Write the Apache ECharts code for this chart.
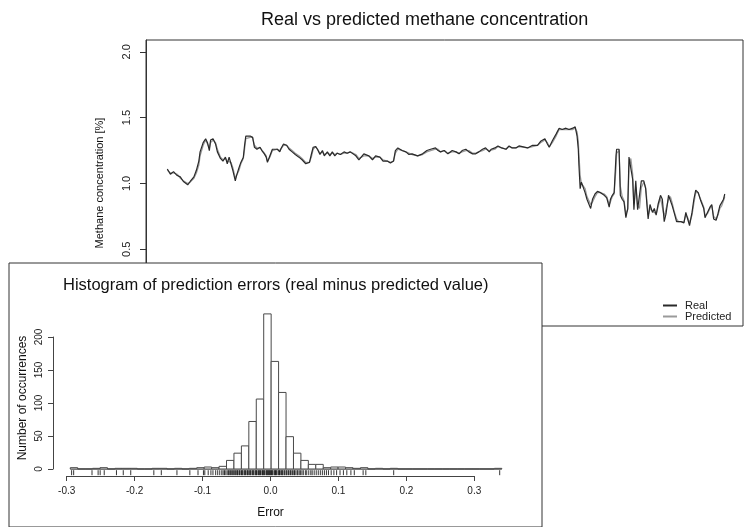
<!DOCTYPE html>
<html><head><meta charset="utf-8">
<script src="https://cdn.jsdelivr.net/npm/echarts@6/dist/echarts.min.js"></script>
<style>html,body{margin:0;padding:0;background:#fff}#c{width:744px;height:527px}</style>
</head><body><div id="c"></div>
<script>
// ---- Main chart: real vs predicted methane concentration ----
const obsIndex = [0,5,10,16,21,26,33,37,43,47, 51,53,58,62,65,68,70,74,78,81, 86,90,94,97,100,103,106,110,112,116,
 119,123,125,127,130,134,138,141,145,150, 153,157,160,162,166,170,173,178,182,184, 188,193,197,202,207,213,218,224,226,230,
 233,236,240,243,247,251,254,259,263,267, 271,275,280,286,291,296,305,310,318,326, 332,337,344,349,356,361,366,369,373,380,
 386,391,396,405,413,420,426,434,438,442, 448,454,461,467,472,477,483,488,494,499, 504,510,515,521,524,530,535,541,548,553,
 558,564,569,572,583,591,599,604,611,615, 618,623,629,634,639,645,650,656,660,663, 665,666,668,670,673,676,679,682,685,688,
 692,696,701,707,711,715,717,720,723,726, 727,731,733,736,739,742,745,747,750,753, 755,758,761,764,767,771,774,776,778,781,
 785,788,791,794,798,801,804,807,811,814, 817,820,824,827,831,836,839,842,845,849, 852,855,859,863,868,870,874,878,881,884,
 888,891,894,897,900,902];
const realValues = [1.11,1.07,1.09,1.06,1.05,1.015,0.99,1.015,1.05,1.10,
 1.17,1.24,1.31,1.34,1.31,1.25,1.33,1.34,1.30,1.24,
 1.19,1.17,1.20,1.15,1.20,1.15,1.10,1.02,1.06,1.12,
 1.16,1.20,1.29,1.36,1.35,1.36,1.35,1.275,1.26,1.275,
 1.25,1.225,1.20,1.16,1.21,1.26,1.25,1.26,1.24,1.265,
 1.30,1.29,1.26,1.24,1.22,1.20,1.18,1.15,1.14,1.16,
 1.22,1.275,1.28,1.26,1.22,1.25,1.21,1.24,1.21,1.24,
 1.21,1.23,1.22,1.24,1.23,1.24,1.21,1.18,1.225,1.21,
 1.18,1.21,1.20,1.17,1.17,1.155,1.17,1.25,1.27,1.25,
 1.24,1.22,1.225,1.21,1.225,1.25,1.26,1.27,1.25,1.24,
 1.25,1.225,1.25,1.24,1.225,1.25,1.26,1.24,1.225,1.225,
 1.24,1.26,1.27,1.24,1.26,1.27,1.285,1.27,1.26,1.285,
 1.27,1.27,1.285,1.275,1.27,1.29,1.29,1.32,1.34,1.30,
 1.275,1.325,1.375,1.42,1.41,1.42,1.41,1.42,1.43,1.36,
 1.26,1.14,0.96,1.01,1.02,0.93,0.88,0.89,0.81,0.88,
 0.92,0.94,0.93,0.91,0.89,0.82,0.88,0.91,0.93,1.21,
 1.26,1.26,0.91,0.88,0.86,0.74,0.81,1.20,1.21,1.03,
 0.80,1.02,0.80,0.81,1.02,1.02,0.96,0.84,0.73,0.84,
 0.78,0.81,0.76,0.84,0.91,0.88,0.71,0.77,0.91,0.91,
 0.83,0.78,0.71,0.70,0.71,0.70,0.78,0.73,0.68,0.78,
 0.88,0.95,0.93,0.87,0.81,0.74,0.78,0.82,0.84,0.73,
 0.72,0.77,0.83,0.84,0.88,0.92];
const predictedValues = [1.10,1.08,1.08,1.07,1.04,1.02,1.00,1.01,1.04,1.08,
 1.14,1.21,1.29,1.33,1.32,1.27,1.31,1.33,1.31,1.26,
 1.20,1.18,1.19,1.17,1.18,1.16,1.12,1.04,1.05,1.10,
 1.15,1.19,1.26,1.34,1.35,1.35,1.35,1.29,1.27,1.27,
 1.26,1.23,1.21,1.17,1.20,1.25,1.25,1.26,1.25,1.26,
 1.29,1.29,1.27,1.25,1.23,1.21,1.19,1.16,1.15,1.16,
 1.20,1.26,1.28,1.27,1.23,1.24,1.22,1.23,1.22,1.23,
 1.22,1.23,1.22,1.23,1.23,1.24,1.22,1.19,1.21,1.21,
 1.19,1.20,1.20,1.18,1.17,1.16,1.17,1.23,1.26,1.25,
 1.24,1.23,1.22,1.21,1.22,1.24,1.25,1.26,1.26,1.24,
 1.25,1.23,1.24,1.24,1.23,1.24,1.25,1.25,1.23,1.23,
 1.24,1.25,1.26,1.25,1.25,1.26,1.28,1.27,1.26,1.28,
 1.27,1.27,1.28,1.28,1.27,1.28,1.29,1.31,1.33,1.31,
 1.28,1.31,1.36,1.41,1.41,1.41,1.41,1.41,1.42,1.39,
 1.32,1.22,1.06,1.00,1.00,0.96,0.90,0.89,0.84,0.86,
 0.90,0.93,0.93,0.92,0.90,0.84,0.86,0.90,0.92,1.12,
 1.23,1.25,0.98,0.90,0.87,0.77,0.80,1.12,1.19,1.07,
 0.84,0.97,0.83,0.81,0.97,1.01,0.97,0.87,0.76,0.81,
 0.79,0.80,0.77,0.82,0.89,0.88,0.75,0.76,0.88,0.90,
 0.85,0.79,0.73,0.71,0.71,0.71,0.76,0.74,0.70,0.76,
 0.85,0.93,0.93,0.88,0.82,0.76,0.77,0.81,0.83,0.75,
 0.73,0.76,0.81,0.83,0.87,0.90];
const mainYTicks = [0, 0.5, 1, 1.5, 2];

// ---- Inset: histogram of prediction errors ----
const errBinStart = -0.294;
const errBinWidth = 0.01095;
const errCounts = [2,0,0,1,2,0,1,1,1,0, 0,1,1,0,1,0,1,2,3,2,
 4,13,24,35,72,106,235,163,116,49, 24,13,7,7,2,3,3,2,1,2,
 0,1,0,1,0,0,0,0,0,0, 0,0,0,0,0,0,0,1];
const rugValues = [-0.292,-0.289,-0.262,-0.253,-0.250,-0.244,-0.226,-0.216,-0.205,-0.171,-0.160,-0.137,-0.118,-0.106,-0.098,-0.096,-0.091,-0.087,-0.084,-0.080,-0.077,-0.074,-0.071,-0.069,-0.067,-0.065,-0.063,-0.061,-0.060,-0.058,-0.057,-0.055,-0.054,-0.052,-0.051,-0.049,-0.048,-0.047,-0.045,-0.044,-0.042,-0.041,-0.040,-0.038,-0.037,-0.036,-0.034,-0.033,-0.032,-0.030,-0.029,-0.028,-0.026,-0.025,-0.024,-0.022,-0.021,-0.020,-0.019,-0.017,-0.016,-0.015,-0.014,-0.012,-0.011,-0.010,-0.009,-0.008,-0.006,-0.005,-0.004,-0.003,-0.002,-0.001,0.000,0.001,0.002,0.003,0.004,0.006,0.007,0.008,0.009,0.010,0.012,0.013,0.014,0.015,0.017,0.018,0.019,0.021,0.022,0.024,0.025,0.027,0.028,0.030,0.031,0.033,0.035,0.036,0.038,0.040,0.041,0.043,0.045,0.047,0.049,0.052,0.054,0.057,0.060,0.062,0.065,0.068,0.071,0.074,0.077,0.080,0.083,0.086,0.090,0.094,0.098,0.103,0.108,0.113,0.119,0.124,0.137,0.141,0.182,0.338];
const errXTicks = [-0.3,-0.2,-0.1,0,0.1,0.2,0.3];
const errYTicks = [0,50,100,150,200];

const FONT = 'Liberation Sans, Arial, Helvetica, sans-serif';
const histYMin = -9.4, histYMax = 244.4;

const binData = errCounts.map((c, i) => [errBinStart + i * errBinWidth, errBinStart + (i + 1) * errBinWidth, c]);
const binEnd = errBinStart + errCounts.length * errBinWidth;

const chart = echarts.init(document.getElementById('c'), null, {renderer: 'canvas'});
const hidden = {show: false};
chart.setOption({
  animation: false,
  backgroundColor: '#fff',
  textStyle: {fontFamily: FONT},
  title: [
    {text: 'Real vs predicted methane concentration', left: 261, top: 11, padding: 0,
     textStyle: {fontSize: 18, fontWeight: 'normal', color: '#111', fontFamily: FONT}},
    {text: 'Histogram of prediction errors (real minus predicted value)', left: 63, top: 277, padding: 0, z: 40,
     textStyle: {fontSize: 16.5, fontWeight: 'normal', color: '#111', fontFamily: FONT}}
  ],
  legend: {
    data: ['Real', 'Predicted'], orient: 'vertical', left: 663, top: 300, padding: 0,
    itemWidth: 14, itemHeight: 2, itemGap: 0, icon: 'rect',
    textStyle: {fontSize: 11, lineHeight: 10, color: '#222', fontFamily: FONT, padding: [0, 0, 0, 3]}
  },
  grid: [
    {left: 146, top: 40, right: 1, bottom: 201, show: true, borderColor: '#333', borderWidth: 1, backgroundColor: 'transparent'},
    {left: 9, top: 263, right: 202, bottom: -10, show: true, borderColor: '#333', borderWidth: 1, backgroundColor: '#fff', z: 20},
    {left: 66.7, right: 744 - 474.3, top: 300, bottom: 51, z: 30},
    {left: 53, width: 100, top: 337, bottom: 58, z: 30},
    {left: 53, right: 225, top: 307.7, bottom: 51.8, z: 30}
  ],
  xAxis: [
    {gridIndex: 0, type: 'value', min: -34.5, max: 931.5, show: false},
    {gridIndex: 1, type: 'value', min: 0, max: 1, show: false},
    {gridIndex: 2, type: 'value', min: -0.3, max: 0.3, position: 'bottom', z: 30,
     name: 'Error', nameLocation: 'middle', nameGap: 31,
     nameTextStyle: {fontSize: 12, color: '#111', fontFamily: FONT},
     axisLine: {show: true, onZero: false, lineStyle: {color: '#444', width: 1}},
     axisTick: {show: true, length: 5, customValues: errXTicks, lineStyle: {color: '#444'}},
     axisLabel: {customValues: errXTicks, fontSize: 10, color: '#222', margin: 10, fontFamily: FONT,
       formatter: v => v.toFixed(1)},
     splitLine: hidden},
    {gridIndex: 3, type: 'value', min: 0, max: 1, show: false},
    {gridIndex: 4, type: 'value', min: -0.3194, max: 0.3664, show: false}
  ],
  yAxis: [
    {gridIndex: 0, type: 'value', min: -0.083, max: 2.09,
     name: 'Methane concentration [%]', nameLocation: 'middle', nameGap: 41, nameRotate: 90,
     nameTextStyle: {fontSize: 11, color: '#111', fontFamily: FONT},
     axisLine: {show: true, onZero: false, lineStyle: {color: '#333'}},
     axisTick: {show: true, length: 6, customValues: mainYTicks, lineStyle: {color: '#333'}},
     axisLabel: {customValues: mainYTicks, rotate: 90, fontSize: 11, color: '#222', margin: 14, fontFamily: FONT,
       formatter: v => v.toFixed(1)},
     splitLine: hidden},
    {gridIndex: 1, type: 'value', min: 0, max: 1, show: false},
    {gridIndex: 2, type: 'value', min: 0, max: 1, show: false},
    {gridIndex: 3, type: 'value', min: 0, max: 200, z: 30,
     name: 'Number of occurrences', nameLocation: 'middle', nameGap: 24, nameRotate: 90,
     nameTextStyle: {fontSize: 12, color: '#111', fontFamily: FONT, padding: [0, 0, 0, 10]},
     axisLine: {show: true, onZero: false, lineStyle: {color: '#444'}},
     axisTick: {show: true, length: 5, customValues: errYTicks, lineStyle: {color: '#444'}},
     axisLabel: {customValues: errYTicks, rotate: 90, fontSize: 10, color: '#222', margin: 9, fontFamily: FONT},
     splitLine: hidden},
    {gridIndex: 4, type: 'value', min: histYMin, max: histYMax, show: false}
  ],
  series: [
    {name: 'Predicted', type: 'line', xAxisIndex: 0, yAxisIndex: 0, z: 2,
     data: obsIndex.map((x, i) => [x, predictedValues[i]]),
     showSymbol: false, symbol: 'none', lineStyle: {color: '#9a9a9a', width: 1.3}, itemStyle: {color: '#9a9a9a'}},
    {name: 'Real', type: 'line', xAxisIndex: 0, yAxisIndex: 0, z: 3,
     data: obsIndex.map((x, i) => [x, realValues[i]]),
     showSymbol: false, symbol: 'none', lineStyle: {color: '#2a2a2a', width: 1.2}, itemStyle: {color: '#2a2a2a'}},
    {type: 'line', xAxisIndex: 4, yAxisIndex: 4, z: 31, silent: true,
     data: [[errBinStart, 0], [binEnd, 0]], showSymbol: false, symbol: 'none',
     lineStyle: {color: '#4a4a4a', width: 1}},
    {type: 'custom', xAxisIndex: 4, yAxisIndex: 4, z: 32, silent: true,
     data: binData, encode: {x: [0, 1], y: 2},
     renderItem: (params, api) => {
       const p0 = api.coord([api.value(0), api.value(2)]);
       const p1 = api.coord([api.value(1), 0]);
       return {type: 'rect', shape: {x: p0[0], y: p0[1], width: p1[0] - p0[0], height: p1[1] - p0[1]},
               style: {fill: '#fff', stroke: '#4a4a4a', lineWidth: 1}};
     }},
    {type: 'custom', xAxisIndex: 4, yAxisIndex: 4, z: 33, silent: true,
     data: rugValues.map(v => [v, histYMin]), encode: {x: 0, y: 1},
     renderItem: (params, api) => {
       const a = api.coord([api.value(0), histYMin]);
       const b = api.coord([api.value(0), histYMin + 0.03 * (histYMax - histYMin)]);
       return {type: 'line', shape: {x1: a[0], y1: a[1], x2: b[0], y2: b[1]},
               style: {stroke: '#000', lineWidth: 0.8}};
     }}
  ]
});
</script></body></html>
